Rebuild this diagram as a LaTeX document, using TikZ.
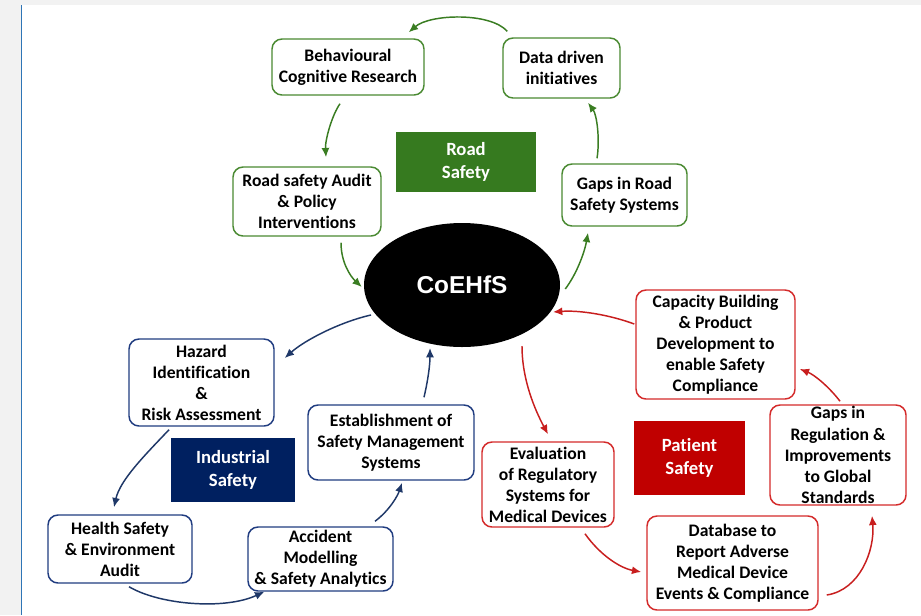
\documentclass[tikz,border=0pt]{standalone}
\usepackage{fontspec}
\setmainfont{Carlito}[Ligatures=NoCommon]
\newfontfamily\headfont{Liberation Sans}
\usetikzlibrary{arrows.meta,calc,shapes.geometric}

\definecolor{pagegray}{HTML}{F2F2F2}
\definecolor{edgeblue}{HTML}{2E75B6}
\definecolor{roadfill}{HTML}{367A1F}
\definecolor{roadline}{HTML}{4A8A32}
\definecolor{roadarrow}{HTML}{3A7D22}
\definecolor{indfill}{HTML}{002060}
\definecolor{indline}{HTML}{203C80}
\definecolor{indarrow}{HTML}{1F3868}
\definecolor{patfill}{HTML}{C00000}
\definecolor{patline}{HTML}{D42A2A}
\definecolor{patarrow}{HTML}{C81E1E}

% box given by its corners (x1,y1) and (x2,y2), in pixel units
\newcommand\placebox[7]{%
  \node[#6, minimum width={(#4-#2)*0.75pt}, minimum height={(#5-#3)*0.75pt}]
    (#1) at ({(#2+#4)/2},{(#3+#5)/2+1}) {#7};}

\tikzset{
  txt/.style={font=\bfseries\fontsize{13.2}{15.8}\selectfont},
  box/.style={txt, draw, rounded corners=7.5pt, line width=1.1pt, fill=white,
    align=center, inner sep=0pt, text=black},
  roadbox/.style={box, draw=roadline},
  indbox/.style={box, draw=indline},
  patbox/.style={box, draw=patline},
  label/.style={font=\bfseries\fontsize{14}{17.3}\selectfont, align=center,
    inner sep=0pt, text=white},
  arr/.style={line width=1.1pt, -{Latex[length=7pt,width=6pt]}},
  garr/.style={arr, draw=roadarrow},
  narr/.style={arr, draw=indarrow},
  rarr/.style={arr, draw=patarrow},
}

\begin{document}
\begin{tikzpicture}[x=0.75pt,y=-0.75pt]
\useasboundingbox (0,0) rectangle (921,615);
% page background
\fill[pagegray] (0,0) rectangle (921,615);
\fill[white] (22,5) rectangle (921,615);
\draw[edgeblue, line width=1.1pt] (21.5,5) -- (21.5,615);

% centre
\node[ellipse, fill=black, minimum width=196*0.75pt, minimum height=124*0.75pt,
  inner sep=0pt, text=white] (co) at (462,285)
  {\headfont\bfseries\fontsize{18.3}{22}\selectfont CoEHfS};

% road safety
\placebox{road}{396}{131}{536}{191}{label, fill=roadfill}{Road\\Safety}
\placebox{beh}{272}{38}{424}{94}{roadbox}{Behavioural\\Cognitive Research}
\placebox{data}{503}{37}{620}{97}{roadbox}{Data driven\\initiatives}
\placebox{rsa}{233}{166}{381}{235}{roadbox}{Road safety Audit\\\& Policy\\Interventions}
\placebox{gapr}{562}{163}{687}{225}{roadbox}{Gaps in Road\\Safety Systems}

% industrial safety
\placebox{ind}{171}{437}{295}{501}{label, fill=indfill}{Industrial\\Safety}
\placebox{haz}{129}{338}{274}{425}{indbox}{Hazard\\Identification\\\&\\Risk Assessment}
\placebox{est}{308}{404}{474}{479}{indbox}{Establishment of\\Safety Management\\Systems}
\placebox{hse}{48}{514}{192}{582}{indbox}{Health Safety\\\& Environment\\Audit}
\placebox{acc}{248}{526}{393}{590}{indbox}{Accident\\Modelling\\\& Safety Analytics}

% patient safety
\placebox{pat}{634}{420}{745}{494}{label, fill=patfill}{Patient\\Safety}
\placebox{cap}{636}{289}{795}{398}{patbox}{Capacity Building\\\& Product\\Development to\\enable Safety\\Compliance}
\placebox{eval}{482}{441}{614}{526}{patbox}{Evaluation\\of Regulatory\\Systems for\\Medical Devices}
\placebox{greg}{770}{404}{906}{504}{patbox}{Gaps in\\Regulation \&\\Improvements\\to Global\\Standards}
\placebox{db}{647}{515}{818}{609}{patbox}{Database to\\Report Adverse\\Medical Device\\Events \& Compliance}

% road safety cycle
\draw[garr] ($(data.north west)+(5,-6)$) .. controls (490,12) and (430,14) .. ($(beh.north east)+(-16,-6)$);
\draw[garr] ($(beh.south)+(-8,8)$) .. controls (332,115) and (325,140) .. ($(rsa.north)+(19,-9)$);
\draw[garr] ($(rsa.south)+(34,6)$) .. controls (341,262) and (350,276) .. ($(co.west)+(-2,2)$);
\draw[garr] ($(co.east)+(5,4)$) .. controls (578,272) and (585,250) .. ($(gapr.south)+(-36.5,6)$);
\draw[garr] ($(gapr.north)+(-27.5,-5)$) .. controls (600,140) and (597,115) .. ($(data.south)+(26.5,4)$);

% industrial safety cycle
\draw[narr] ($(co.center)+(-91,30)$) .. controls (340,322) and (305,340) .. ($(haz.east)+(10,-24.5)$);
\draw[narr] ($(haz.south)+(-32.5,3)$) .. controls (145,455) and (120,480) .. ($(hse.north)+(-6,-7)$);
\draw[narr] ($(hse.south)+(9,3)$) .. controls (160,605) and (225,610) .. ($(acc.south west)+(17,0)$);
\draw[narr] ($(acc.north)+(54.5,-5)$) .. controls (390,510) and (398,495) .. ($(est.south)+(11,2)$);
\draw[narr] ($(est.north)+(33,-7)$) .. controls (428,380) and (430,365) .. ($(co.center)+(-32,63)$);

% patient safety cycle
\draw[rarr] ($(cap.west)+(-1,-20.5)$) .. controls (610,315) and (580,310) .. ($(co.center)+(91,27)$);
\draw[rarr] ($(co.center)+(60,61)$) .. controls (522,380) and (535,410) .. ($(eval.north)+(0,-7)$);
\draw[rarr] ($(eval.south)+(37,6)$) .. controls (600,555) and (620,568) .. ($(db.west)+(-5,9)$);
\draw[rarr] ($(db.east)+(8,32)$) .. controls (860,590) and (875,550) .. ($(greg.south)+(34,10)$);
\draw[rarr] ($(greg.north)+(2,-3)$) .. controls (830,388) and (815,375) .. ($(cap.east)+(4,24.5)$);
\end{tikzpicture}
\end{document}
